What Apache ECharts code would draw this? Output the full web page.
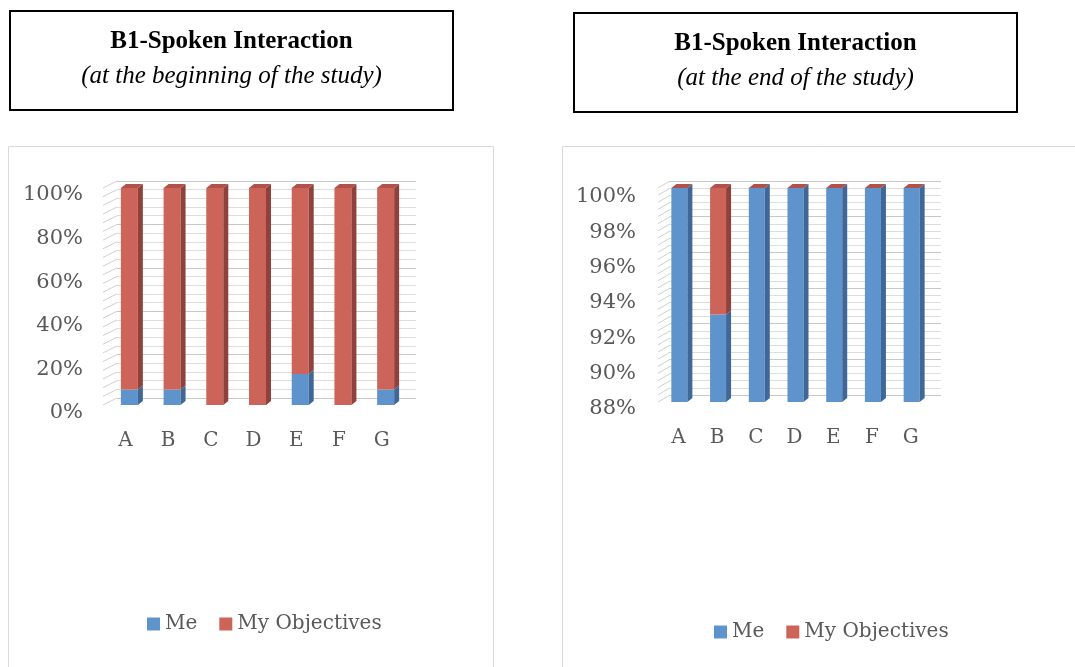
<!DOCTYPE html>
<html>
<head>
<meta charset="utf-8">
<script src="https://cdn.jsdelivr.net/npm/echarts@6/dist/echarts.min.js"></script>
<style>
  html, body { margin: 0; padding: 0; background: #fff; }
  #chart { width: 1075px; height: 667px; }
</style>
</head>
<body>
<div id="chart"></div>
<script>
// data
const categories = ["A", "B", "C", "D", "E", "F", "G"];
const meBefore = [7.1, 7.1, 0, 0, 14.3, 0, 7.1];
const objBefore = [92.9, 92.9, 100, 100, 85.7, 100, 92.9];
const meAfter = [100, 92.9, 100, 100, 100, 100, 100];
const objAfter = [0, 7.1, 0, 0, 0, 0, 0];
const ticksBefore = [0, 20, 40, 60, 80, 100];
const ticksAfter = [88, 90, 92, 94, 96, 98, 100];

const FONT = "DejaVu Serif";
const GREY = "#595959";
const BLUE = { front: "#5F93CC", side: "#3F6898", top: "#5585BC" };
const RED = { front: "#CC6459", side: "#8E423B", top: "#B0524A" };

let chart = echarts.init(document.getElementById("chart"));

function stackData(lower, upper, isTop) {
  return categories.map(function (c, i) {
    let lo = isTop ? lower[i] : 0;
    return [i, lo, lo + upper[i]];
  });
}

// 3d-looking bar: front face, side face and (for the top series) a cap
function bar3d(col, yMin, barW, dx, dy, shift, withCap) {
  return function (params, api) {
    let i = api.value(0);
    let lo = Math.max(api.value(1), yMin);
    let hi = api.value(2);
    let base = api.coord([i, lo]);
    let top = api.coord([i, hi]);
    let x0 = base[0] - barW / 2 + shift;
    let x1 = x0 + barW;
    let kids = [];
    if (hi > lo) {
      kids.push({ type: "rect", shape: { x: x0, y: top[1], width: barW, height: base[1] - top[1] }, style: { fill: col.front } });
      kids.push({ type: "polygon", shape: { points: [[x1, top[1]], [x1 + dx, top[1] - dy], [x1 + dx, base[1] - dy], [x1, base[1]]] }, style: { fill: col.side } });
    }
    if (withCap) {
      kids.push({ type: "polygon", shape: { points: [[x0, top[1]], [x0 + dx, top[1] - dy], [x1 + dx, top[1] - dy], [x1, top[1]]] }, style: { fill: col.top } });
    }
    return { type: "group", children: kids };
  };
}

// diagonal lines of the side wall
function wall(dx, dy) {
  return function (params, api) {
    let p = api.coord([0, api.value(0)]);
    let x = params.coordSys.x;
    return { type: "line", shape: { x1: x - 1, y1: p[1], x2: x + dx, y2: p[1] - dy }, style: { stroke: "#CFCFCF", lineWidth: 1 } };
  };
}

function minorTicks(ticks, parts) {
  let out = [];
  for (let k = 0; k < ticks.length - 1; k++) {
    let step = (ticks[k + 1] - ticks[k]) / parts;
    for (let j = 0; j < parts; j++) out.push([ticks[k] + step * j]);
  }
  out.push([ticks[ticks.length - 1]]);
  return out;
}

function plainY(ticks, grid) {
  return {
    gridIndex: grid, type: "value",
    min: ticks[0], max: ticks[ticks.length - 1], interval: ticks[1] - ticks[0],
    axisLine: { show: false }, axisTick: { show: false }, splitLine: { show: false },
    axisLabel: { show: false }
  };
}
// tick labels sit a little lower than the bars, so they get their own grid
function labelY(ticks, grid, margin) {
  let a = plainY(ticks, grid);
  a.axisLabel = { show: true, formatter: "{value}%", fontFamily: FONT, fontSize: 21, color: GREY, margin: margin };
  return a;
}
function backY(ticks, grid) {
  return {
    gridIndex: grid, type: "value",
    min: ticks[0], max: ticks[ticks.length - 1], interval: ticks[1] - ticks[0],
    axisLine: { show: false }, axisTick: { show: false }, axisLabel: { show: false },
    splitLine: { lineStyle: { color: "#C8C8C8", width: 1 } },
    minorTick: { show: false, splitNumber: 5 },
    minorSplitLine: { show: true, lineStyle: { color: "#DDDDDD", width: 1 } }
  };
}
function frontX(grid) {
  return {
    gridIndex: grid, type: "category", data: categories,
    axisLine: { show: false }, axisTick: { show: false },
    axisLabel: { fontFamily: FONT, fontSize: 20, color: GREY, margin: 26 }
  };
}
function hiddenX(grid) {
  return { gridIndex: grid, type: "category", data: categories, show: false };
}

function titleBox(x, y, w, h, sub) {
  return {
    type: "group", left: x, top: y,
    children: [
      { type: "rect", shape: { x: 0, y: 0, width: w, height: h }, style: { fill: "#fff", stroke: "#000", lineWidth: 2 } },
      { type: "text", x: w / 2, y: 31, style: { text: "B1-Spoken Interaction", fontFamily: "Liberation Serif", fontSize: 25, fontWeight: "bold", fill: "#000", align: "center", verticalAlign: "middle" } },
      { type: "text", x: w / 2, y: 65, style: { text: sub, fontFamily: "Liberation Serif", fontSize: 25, fontStyle: "italic", fill: "#000", align: "center", verticalAlign: "middle" } }
    ]
  };
}

chart.setOption({
  animation: false,
  graphic: [
    { type: "rect", shape: { x: 8.5, y: 146.5, width: 485, height: 540 }, style: { fill: "none", stroke: "#D9D9D9", lineWidth: 1 }, z: -10 },
    { type: "rect", shape: { x: 562.5, y: 146.5, width: 540, height: 540 }, style: { fill: "none", stroke: "#D9D9D9", lineWidth: 1 }, z: -10 },
    titleBox(9, 10, 443, 99, "(at the beginning of the study)"),
    titleBox(573, 12, 443, 99, "(at the end of the study)")
  ],
  legend: [
    {
      left: 142, top: 609, icon: "rect", itemWidth: 13, itemHeight: 13, itemGap: 22,
      data: ["Me", "My Objectives"],
      textStyle: { fontFamily: FONT, fontSize: 20, color: GREY }
    },
    {
      left: 709, top: 617, icon: "rect", itemWidth: 13, itemHeight: 13, itemGap: 22,
      data: ["Me", "My Objectives"],
      textStyle: { fontFamily: FONT, fontSize: 20, color: GREY }
    }
  ],
  grid: [
    { left: 104, top: 188, width: 299, height: 217 },
    { left: 117, top: 181, width: 299, height: 217 },
    { left: 104, top: 195, width: 299, height: 218 },
    { left: 659, top: 188, width: 271, height: 214 },
    { left: 670, top: 181, width: 271, height: 214 },
    { left: 659, top: 197, width: 271, height: 212 }
  ],
  xAxis: [frontX(0), hiddenX(1), hiddenX(2), frontX(3), hiddenX(4), hiddenX(5)],
  yAxis: [
    plainY(ticksBefore, 0), backY(ticksBefore, 1), labelY(ticksBefore, 2, 21),
    plainY(ticksAfter, 3), backY(ticksAfter, 4), labelY(ticksAfter, 5, 23)
  ],
  series: [
    { type: "custom", silent: true, xAxisIndex: 0, yAxisIndex: 0, data: minorTicks(ticksBefore, 5), encode: { y: 0 }, renderItem: wall(13, 7), z: 1 },
    { type: "custom", silent: true, xAxisIndex: 3, yAxisIndex: 3, data: minorTicks(ticksAfter, 5), encode: { y: 0 }, renderItem: wall(11, 7), z: 1 },
    {
      name: "Me", type: "custom", xAxisIndex: 0, yAxisIndex: 0, itemStyle: { color: BLUE.front },
      data: stackData(null, meBefore, false), encode: { x: 0, y: [1, 2] },
      renderItem: bar3d(BLUE, ticksBefore[0], 17, 5, 4, 4, false), z: 3
    },
    {
      name: "My Objectives", type: "custom", xAxisIndex: 0, yAxisIndex: 0, itemStyle: { color: RED.front },
      data: stackData(meBefore, objBefore, true), encode: { x: 0, y: [1, 2] },
      renderItem: bar3d(RED, ticksBefore[0], 17, 5, 4, 4, true), z: 4
    },
    {
      name: "Me", type: "custom", xAxisIndex: 3, yAxisIndex: 3, itemStyle: { color: BLUE.front },
      data: stackData(null, meAfter, false), encode: { x: 0, y: [1, 2] },
      renderItem: bar3d(BLUE, ticksAfter[0], 16, 5, 4, 1, false), z: 3
    },
    {
      name: "My Objectives", type: "custom", xAxisIndex: 3, yAxisIndex: 3, itemStyle: { color: RED.front },
      data: stackData(meAfter, objAfter, true), encode: { x: 0, y: [1, 2] },
      renderItem: bar3d(RED, ticksAfter[0], 16, 5, 4, 1, true), z: 4
    }
  ]
});

window.addEventListener("resize", function () {
  chart.resize();
});
</script>
</body>
</html>
